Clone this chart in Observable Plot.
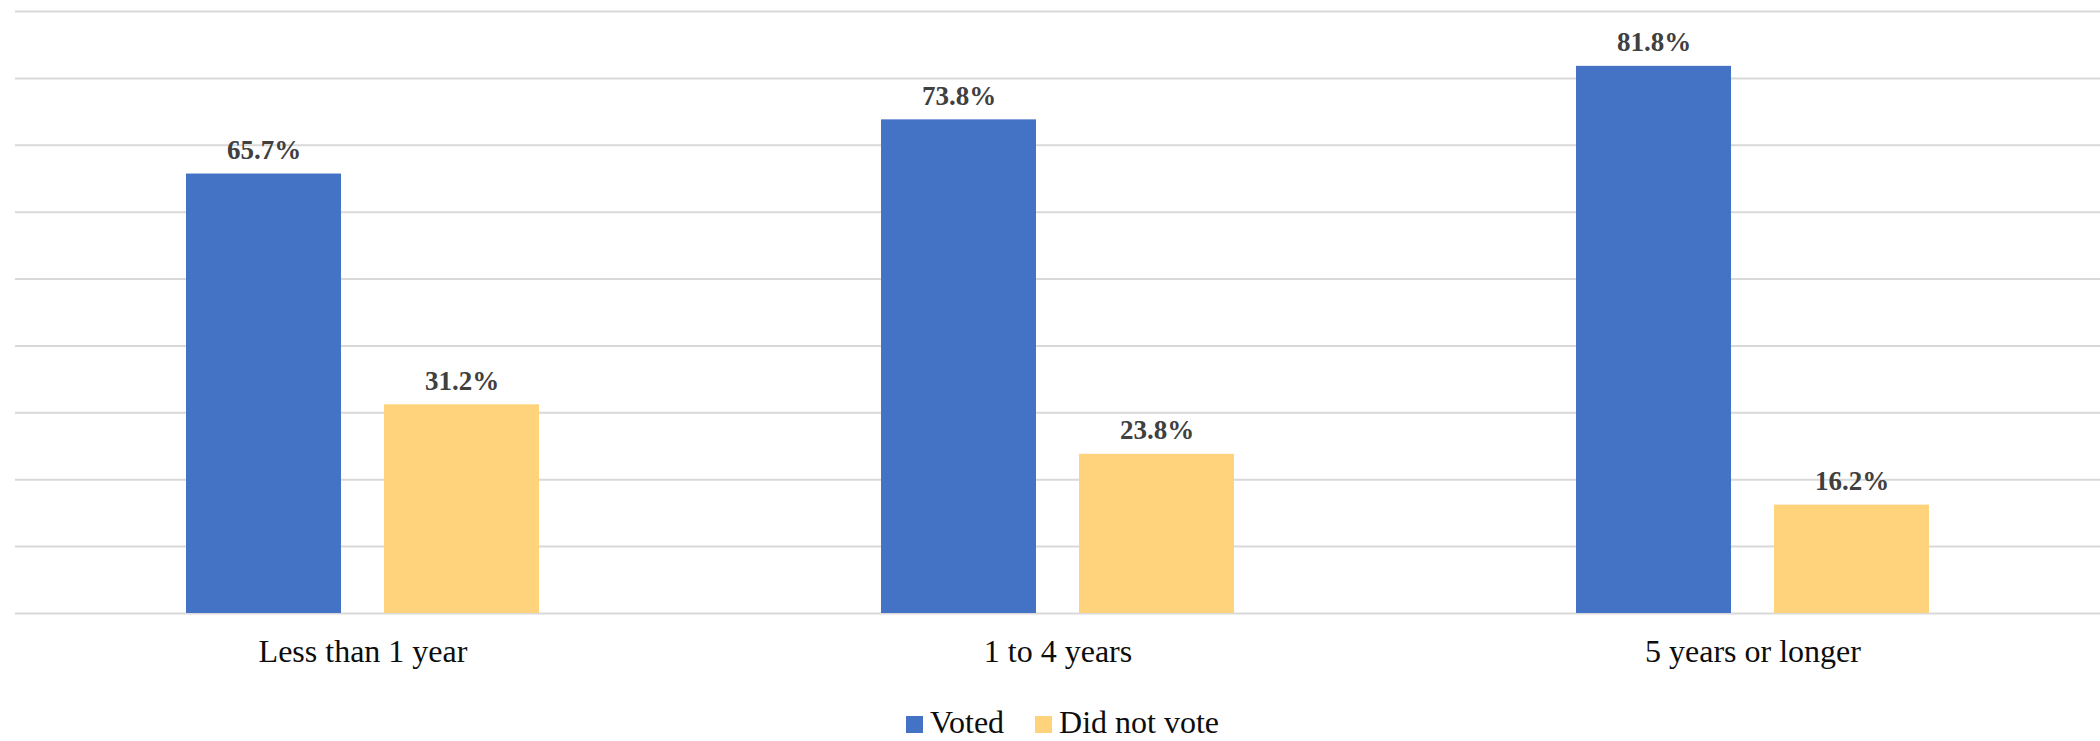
<!DOCTYPE html>
<html>
<head>
<meta charset="utf-8">
<script src="https://cdn.jsdelivr.net/npm/d3@7"></script>
<script src="https://cdn.jsdelivr.net/npm/@observablehq/plot@0.6"></script>
<style>
  html, body { margin: 0; padding: 0; background: #fff; }
  #wrap { position: relative; width: 2100px; height: 741px; overflow: hidden; }
  #legend { position: absolute; left: 906px; top: 706px; font-family: "Liberation Serif", serif; font-size: 32px; line-height: 32px; color: #0d0d0d; white-space: nowrap; }
  #legend .sw { display: inline-block; width: 17px; height: 17px; vertical-align: baseline; }
</style>
</head>
<body>
<div id="wrap"></div>
<script>
const categories = ["Less than 1 year", "1 to 4 years", "5 years or longer"];
const seriesNames = ["Voted", "Did not vote"];
const voted = [65.7, 73.8, 81.8];
const didNotVote = [31.2, 23.8, 16.2];
const gridTicks = [0, 10, 20, 30, 40, 50, 60, 70, 80, 90];
const seriesColors = ["#4472C4", "#FFD37B"];

const rows = [];
categories.forEach((c, i) => {
  rows.push({category: c, series: seriesNames[0], value: voted[i]});
  rows.push({category: c, series: seriesNames[1], value: didNotVote[i]});
});

const chart = Plot.plot({
  width: 2100,
  height: 700,
  marginLeft: 14,
  marginRight: 0,
  marginTop: 11,
  marginBottom: 87,
  style: {fontFamily: "Liberation Serif, serif", fontSize: "32px", color: "#0d0d0d", background: "#fff"},
  fx: {domain: categories, padding: 0, label: null, tickSize: 0, tickPadding: 26, axis: "bottom"},
  x: {domain: seriesNames, paddingInner: 0.216, paddingOuter: 0.858, axis: null},
  y: {domain: [0, 90], axis: null},
  color: {domain: seriesNames, range: seriesColors},
  marks: [
    Plot.ruleY(gridTicks, {stroke: "#D9D9D9", strokeWidth: 2}),
    Plot.barY(rows, {fx: "category", x: "series", y: "value", fill: "series", inset: 0}),
    Plot.text(rows, {
      fx: "category", x: "series", y: "value",
      text: d => d.value.toFixed(1) + "%",
      dy: -15, lineAnchor: "bottom",
      fontWeight: "bold", fontSize: 27, fill: "#404040"
    })
  ]
});

const wrap = document.getElementById("wrap");
wrap.appendChild(chart);

const legend = document.createElement("div");
legend.id = "legend";
seriesNames.forEach((name, i) => {
  const sw = document.createElement("span");
  sw.className = "sw";
  sw.style.background = seriesColors[i];
  sw.style.marginRight = "7px";
  legend.appendChild(sw);
  const t = document.createElement("span");
  t.textContent = name;
  t.style.marginRight = i === 0 ? "31px" : "0";
  legend.appendChild(t);
});
wrap.appendChild(legend);
</script>
</body>
</html>
